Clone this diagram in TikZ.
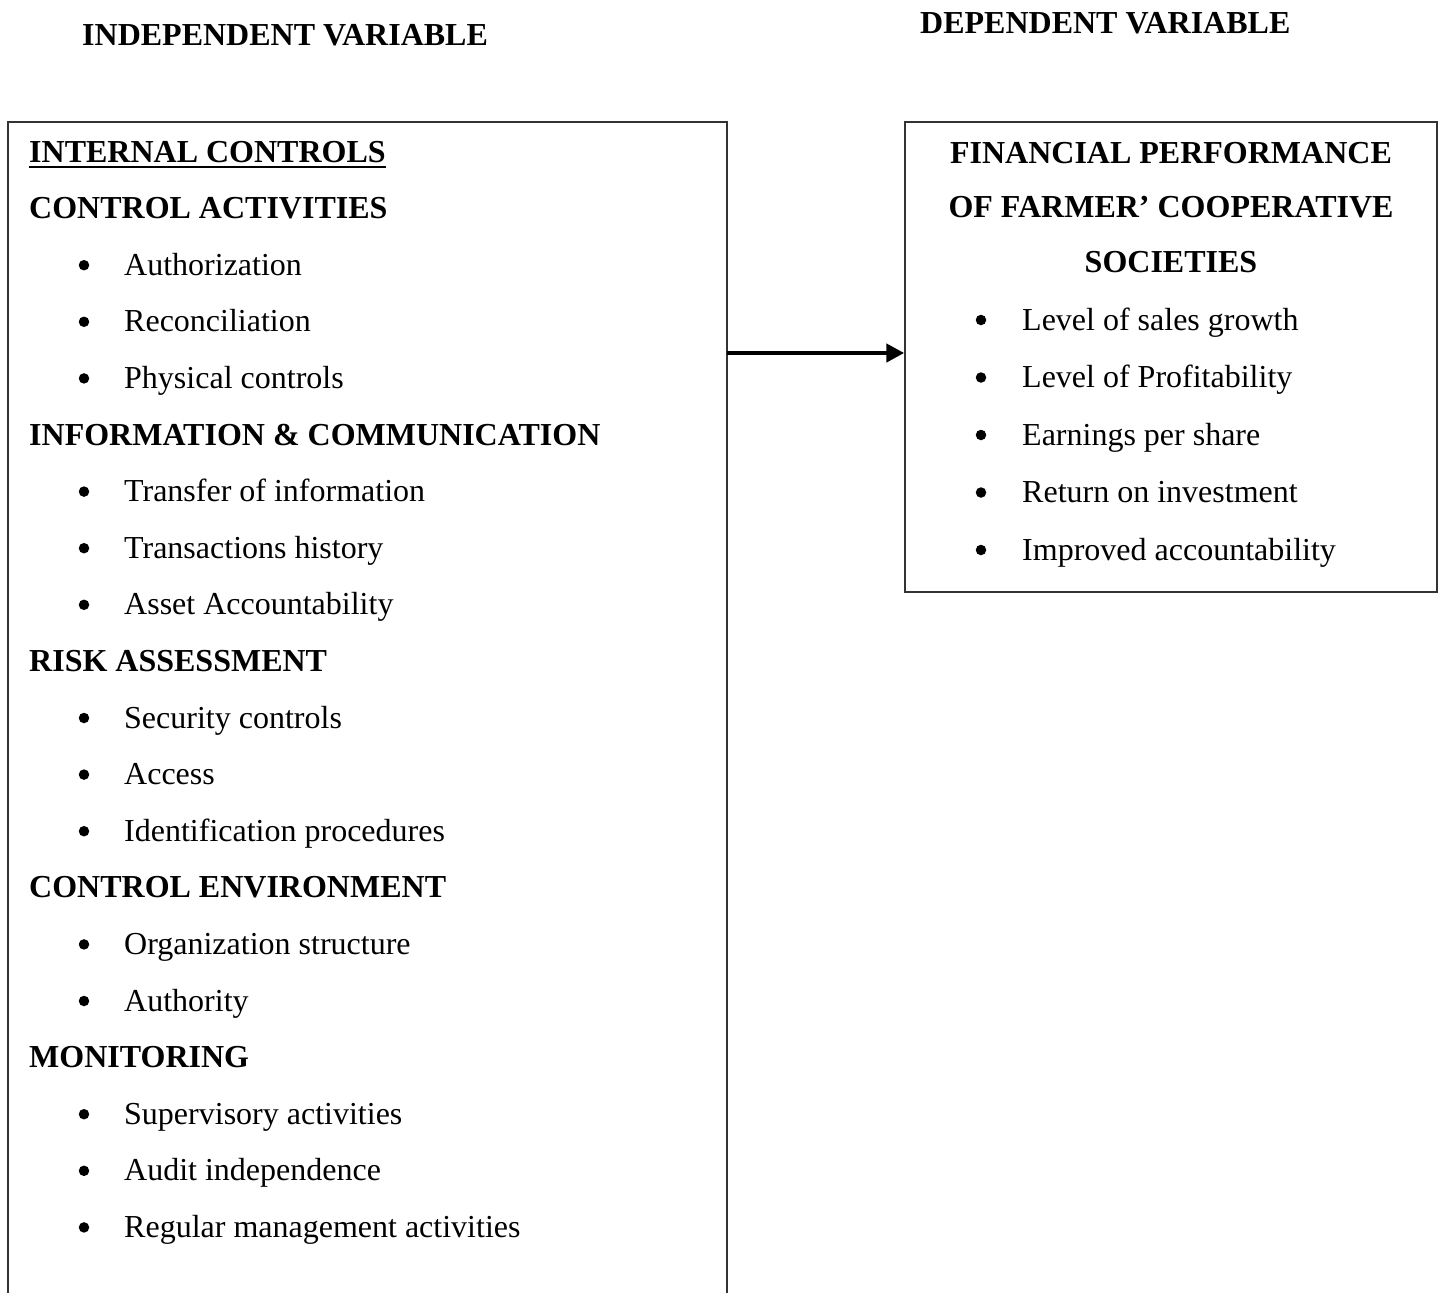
\documentclass[tikz,border=0pt]{standalone}
\usepackage{fontspec}
\setmainfont{Liberation Serif}
\usetikzlibrary{arrows.meta}
\begin{document}
\begin{tikzpicture}[x=1pt,y=-1pt,
  txt/.style={anchor=base west,inner sep=0pt,font=\fontsize{32}{38}\selectfont},
  hd/.style={txt,font=\fontsize{32}{38}\selectfont\bfseries},
  hdc/.style={hd,anchor=base},
  bul/.style={circle,fill=black,inner sep=0pt,minimum size=10.5pt,yshift=10pt},
  frame/.style={draw=black!80,line width=1.5pt}]
\useasboundingbox (0,0) rectangle (1443,1293);
% top labels
\node[hd] (iv) at (82,45) {INDEPENDENT VARIABLE};
\node[hd] (dv) at (920,33) {DEPENDENT VARIABLE};
% left box (open at the bottom)
\node[inner sep=0pt,minimum width=719pt,minimum height=1190pt] (lbox) at (367.5,717) {};
\draw[frame] (lbox.south west) |- (lbox.north east) -- (lbox.south east);
% right box
\node[frame,inner sep=0pt,minimum width=532pt,minimum height=470pt] (rbox) at (1171,357) {};
% left contents
\def\lh{56.6}
\node[hd] (ic) at (29,162) {INTERNAL CONTROLS};
\draw[line width=2.2pt] ([yshift=-5pt]ic.base west) -- ([yshift=-5pt]ic.base east);
\node[hd] (h1) at (29,162+1*\lh) {CONTROL ACTIVITIES};
\foreach \t [count=\i from 2] in {Authorization,Reconciliation,Physical controls}
  {\node[bul] (b\i) at (84,162+\i*\lh) {}; \node[txt] (l\i) at (124,162+\i*\lh) {\t};}
\node[hd] (h2) at (29,162+5*\lh) {INFORMATION \& COMMUNICATION};
\foreach \t [count=\i from 6] in {Transfer of information,Transactions history,Asset Accountability}
  {\node[bul] (b\i) at (84,162+\i*\lh) {}; \node[txt] (l\i) at (124,162+\i*\lh) {\t};}
\node[hd] (h3) at (29,162+9*\lh) {RISK ASSESSMENT};
\foreach \t [count=\i from 10] in {Security controls,Access,Identification procedures}
  {\node[bul] (b\i) at (84,162+\i*\lh) {}; \node[txt] (l\i) at (124,162+\i*\lh) {\t};}
\node[hd] (h4) at (29,162+13*\lh) {CONTROL ENVIRONMENT};
\foreach \t [count=\i from 14] in {Organization structure,Authority}
  {\node[bul] (b\i) at (84,162+\i*\lh) {}; \node[txt] (l\i) at (124,162+\i*\lh) {\t};}
\node[hd] (h5) at (29,162+16*\lh) {MONITORING};
\foreach \t [count=\i from 17] in {Supervisory activities,Audit independence,Regular management activities}
  {\node[bul] (b\i) at (84,162+\i*\lh) {}; \node[txt] (l\i) at (124,162+\i*\lh) {\t};}
% right contents
\node[hdc] (r1) at (1171,163) {FINANCIAL PERFORMANCE};
\node[hdc] (r2) at (1171,217) {OF FARMER’ COOPERATIVE};
\node[hdc] (r3) at (1171,272) {SOCIETIES};
\foreach \t [count=\i from 0] in {Level of sales growth,Level of Profitability,Earnings per share,Return on investment,Improved accountability}
  {\node[bul] (rb\i) at (981,330+\i*57.5) {}; \node[txt] (rl\i) at (1022,330+\i*57.5) {\t};}
% arrow
\coordinate (aS) at (lbox.east |- 0,353);
\draw[line width=4.5pt,-{Triangle[length=18pt,width=18pt]}] (aS) -- (rbox.west |- aS);
\end{tikzpicture}
\end{document}
